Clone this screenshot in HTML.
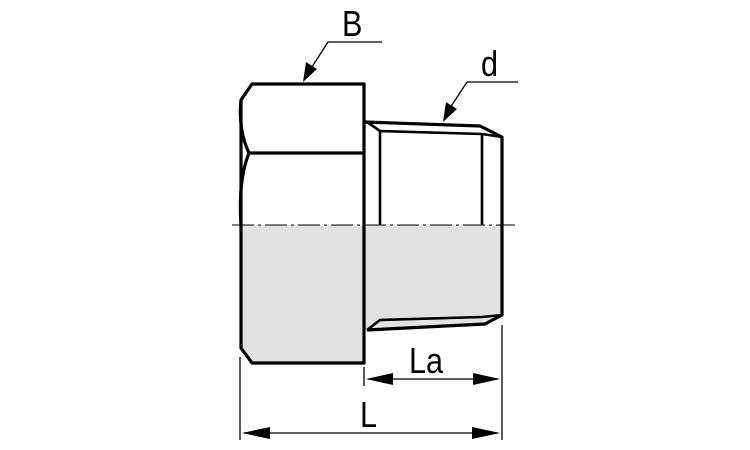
<!DOCTYPE html>
<html><head><style>html,body{margin:0;padding:0;background:#fff}svg{display:block}</style></head>
<body>
<svg width="750" height="450" viewBox="0 0 750 450" xmlns="http://www.w3.org/2000/svg">
<rect width="750" height="450" fill="#fff"/>
<polygon points="241,225 364,225 364,363 252,363 241,348" fill="#e2e2e2"/>
<polygon points="364,225 502,225 502,315 485,324 367,330 364,330" fill="#e2e2e2"/>
<line x1="232" y1="225" x2="515" y2="225" stroke="#000" stroke-width="1" stroke-dasharray="22,4,3,4"/>
<g fill="none" stroke="#000" stroke-width="3.2" stroke-linejoin="round">
<path d="M252,84 L364,84 L364,363 L252,363 L241,348 L241,100 Z"/>
<path d="M241,100 Q238,130 249,153 L364,153"/>
<path d="M249,153 Q238,180 241,225"/>
<path d="M364,122 L480,126 L502,137 L502,315 L485,324 L367,330"/>
<path d="M367,122 L380,131 L482,134 L502,137" stroke-width="2.6"/>
<path d="M367,330 L380,320 L482,317 L502,315" stroke-width="2.6"/>
<line x1="380" y1="131" x2="380" y2="225" stroke-width="2.6"/>
<line x1="482" y1="134" x2="482" y2="225" stroke-width="2.6"/>
</g>
<g stroke="#000" stroke-width="1.3">
<line x1="240" y1="357" x2="240" y2="440"/>
<line x1="502" y1="325" x2="502" y2="440"/>
<line x1="364" y1="367" x2="364" y2="386"/>
<line x1="244" y1="433" x2="498" y2="433"/>
<line x1="368" y1="379" x2="498" y2="379"/>
<line x1="328" y1="42" x2="382" y2="42"/>
<line x1="328" y1="42" x2="310" y2="70"/>
<line x1="467" y1="82" x2="518" y2="82"/>
<line x1="467" y1="82" x2="450" y2="108"/>
</g>
<g fill="#000">
<polygon points="242,433 270,427 270,439"/>
<polygon points="500,433 472,427 472,439"/>
<polygon points="366,379 393,373 393,385"/>
<polygon points="500,379 473,373 473,385"/>
<polygon points="303,82 306,62 317,69"/>
<polygon points="443,122 446,102 457,109"/>
</g>
<g font-family="Liberation Sans, sans-serif" font-size="36" fill="#000">
<text transform="translate(342,36) scale(0.85,1)">B</text>
<text transform="translate(481,76) scale(0.85,1)">d</text>
<text transform="translate(409,373) scale(0.85,1)">La</text>
<text transform="translate(360,427) scale(0.85,1)">L</text>
</g>
</svg>
</body></html>
